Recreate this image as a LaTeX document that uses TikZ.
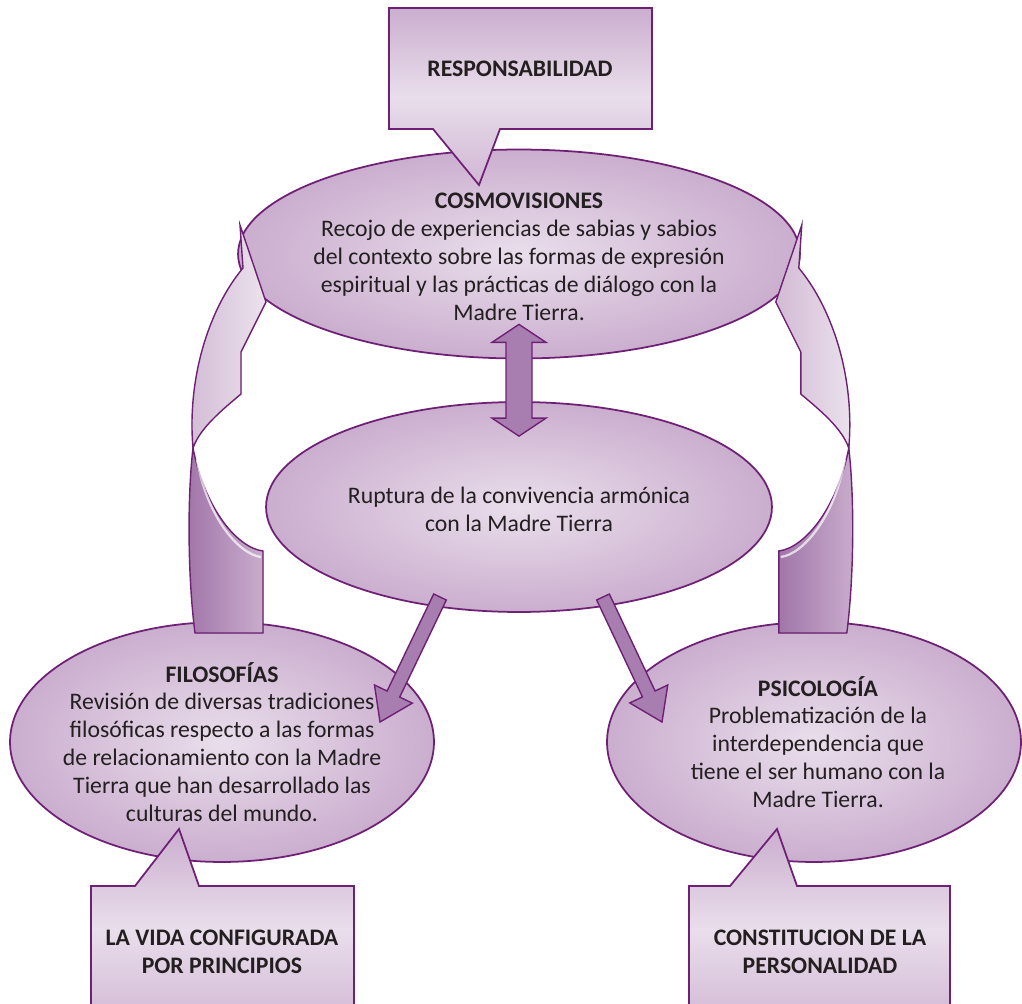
\documentclass[tikz,border=0pt]{standalone}
\usepackage{fontspec}
\setmainfont{Carlito}
\usetikzlibrary{calc,shapes.geometric}

\definecolor{edge}{HTML}{6E2174}
\definecolor{lavlight}{HTML}{E9DEEB}
\definecolor{lavdark}{HTML}{CBAECF}
\definecolor{arrowfill}{HTML}{A87EB0}
\definecolor{bandlight}{HTML}{ECE3ED}
\definecolor{bandmid}{HTML}{D2BBD5}
\definecolor{banddark}{HTML}{A176A9}
\definecolor{ink}{HTML}{231F20}

\tikzset{
  bubble/.style={ellipse, draw=edge, line width=1pt, inner color=lavlight, outer color=lavdark},
  words/.style={align=center, text=ink, font=\fontsize{13.5}{15.9}\selectfont},
  heading/.style={align=center, text=ink, font=\fontsize{13.5}{15.9}\selectfont\bfseries},
  callout/.style={draw=edge, line width=1pt, line join=miter, top color=lavdark, bottom color=lavdark!90, middle color=lavlight},
  fatarrow/.style={draw=edge, line width=0.8pt, fill=arrowfill, line join=miter},
}

\newcommand{\ribbon}{%
  \filldraw[left color=banddark, right color=bandmid!80!banddark, draw=edge, line width=0.8pt]
    (193,448) .. controls (187,500) and (188,580) .. (195,633) -- (263,633) -- (263,551)
    .. controls (238,548) and (205,510) .. (193,448) -- cycle;
  \draw[white, opacity=0.7, line width=1.3pt] (261,557) .. controls (238,554) and (207,516) .. (197,460);
  \filldraw[left color=bandmid, right color=bandlight, draw=edge, line width=0.8pt]
    (240,225) -- (266,302) -- (241,352) -- (241,394)
    .. controls (222,410) and (200,428) .. (193,448)
    .. controls (187,380) and (208,310) .. (243,268) -- cycle;}
\newcommand{\fatarrow}[2]{%
  \filldraw[fatarrow] ($(#1)!0.14cm!90:(#2)$) -- ($(#2)!0.62cm!(#1)!0.14cm!90:(#2)$)
    -- ($(#2)!0.62cm!(#1)!0.42cm!90:(#2)$) -- (#2) -- ($(#2)!0.62cm!(#1)!0.42cm!-90:(#2)$)
    -- ($(#2)!0.62cm!(#1)!0.14cm!-90:(#2)$) -- ($(#1)!0.14cm!-90:(#2)$) -- cycle;}
\newcommand{\dblarrow}[2]{%
  \filldraw[fatarrow] (#1) -- ($(#1)!0.36cm!(#2)!0.54cm!90:(#2)$) -- ($(#1)!0.36cm!(#2)!0.26cm!90:(#2)$)
    -- ($(#2)!0.36cm!(#1)!0.26cm!90:(#2)$) -- ($(#2)!0.36cm!(#1)!0.54cm!90:(#2)$)
    -- (#2) -- ($(#2)!0.36cm!(#1)!0.54cm!-90:(#2)$) -- ($(#2)!0.36cm!(#1)!0.26cm!-90:(#2)$)
    -- ($(#1)!0.36cm!(#2)!0.26cm!-90:(#2)$) -- ($(#1)!0.36cm!(#2)!0.54cm!-90:(#2)$) -- cycle;}

\begin{document}
\begin{tikzpicture}[x=0.02cm, y=-0.02cm]
  \useasboundingbox (0,0) rectangle (1022,1004);
  \fill[white] (0,0) rectangle (1022,1004);
  \clip (0,0) rectangle (1022,1004);

  % ellipses
  \node[bubble, minimum width=11.24cm, minimum height=4.18cm] (cosmo) at (519,254) {};
  \node[bubble, minimum width=10.12cm, minimum height=4.2cm] (rup) at (519,507) {};
  \node[bubble, minimum width=8.48cm, minimum height=4.8cm] (filo) at (222,742) {};
  \node[bubble, minimum width=8.28cm, minimum height=4.8cm] (psico) at (814,742) {};

  % curved arrows
  \ribbon
  \begin{scope}[xshift=20.84cm, xscale=-1]
    \ribbon
  \end{scope}

  % straight arrows
  \coordinate (c1) at ($(cosmo.south)+(0,-35)$);
  \coordinate (r1) at ($(rup.north)+(0,35)$);
  \dblarrow{c1}{r1}
  \coordinate (r2) at ($(rup)+(-79,90)$);
  \coordinate (f2) at ($(filo)+(158,-20)$);
  \fatarrow{r2}{f2}
  \coordinate (r3) at ($(rup)+(84,90)$);
  \coordinate (p3) at ($(psico)+(-152,-20)$);
  \fatarrow{r3}{p3}

  % callouts
  \filldraw[callout] (389,8) -- (652,8) -- (652,129) -- (500,129) -- (479,185) -- (433,129) -- (389,129) -- cycle;
  \filldraw[callout] (91,1030) -- (91,886) -- (135,886) -- (179,829) -- (199,886) -- (354,886) -- (354,1030) -- cycle;
  \filldraw[callout] (689,1030) -- (689,886) -- (730,886) -- (777,829) -- (797,886) -- (950,886) -- (950,1030) -- cycle;

  % texts
  \node[heading] (resp) at (520,69) {RESPONSABILIDAD};
  \node[heading] (vida) at (222,952) {LA VIDA CONFIGURADA\\POR PRINCIPIOS};
  \node[heading] (perso) at (820,952) {CONSTITUCION DE LA\\PERSONALIDAD};
  \node[words] (cosmo-text) at (519,257) {{\bfseries COSMOVISIONES}\\Recojo de experiencias de sabias y sabios\\del contexto sobre las formas de expresión\\espiritual y las prácticas de diálogo con la\\Madre Tierra.};
  \node[words] (rup-text) at (519,509) {Ruptura de la convivencia armónica\\con la Madre Tierra};
  \node[words] (filo-text) at (222,742) {{\bfseries FILOSOFÍAS}\\Revisión de diversas tradiciones\\filosóficas respecto a las formas\\de relacionamiento con la Madre\\Tierra que han desarrollado las\\culturas del mundo.};
  \node[words] (psico-text) at (818,742) {{\bfseries PSICOLOGÍA}\\Problematización de la\\interdependencia que\\tiene el ser humano con la\\Madre Tierra.};
\end{tikzpicture}
\end{document}
